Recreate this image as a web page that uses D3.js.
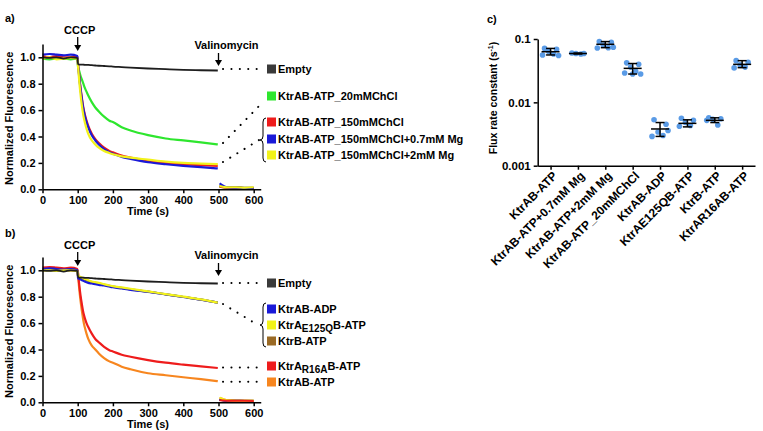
<!DOCTYPE html>
<html><head><meta charset="utf-8">
<script src="https://cdn.jsdelivr.net/npm/d3@7"></script>
<style>
body{margin:0;background:#fff}
text{font-family:"Liberation Sans",Arial,sans-serif;font-weight:bold;fill:#000}
</style>
</head><body><svg id="chart" width="763" height="431"></svg>
<script>
// ---------------- DATA ----------------
const timePre = [0, 20, 40, 60, 80, 99];
const timeDecay = [101,104,108,112,116,120,125,130,140,150,160,175,190,200,225,250,300,350,400,450,498];
const timePost = [503, 525, 550, 575, 600];
const xTicks = [0,100,200,300,400,500,600];
const yTicks = [0,0.2,0.4,0.6,0.8,1.0];

// Panel a
const aEmptyPre = [1.0,0.995,1.0,0.99,1.0,0.995];
const aEmptyDecay = [0.95,0.945,0.945,0.945,0.944,0.943,0.942,0.942,0.94,0.938,0.936,0.934,0.932,0.93,0.926,0.922,0.915,0.91,0.905,0.902,0.90];
const aEmptyPost = [0.025,0.015,0.015,0.012,0.012];
const aGreenPre = [0.99,0.985,0.99,0.99,0.985,0.99];
const aGreenDecay = [0.93,0.90,0.86,0.83,0.80,0.77,0.74,0.71,0.66,0.62,0.59,0.55,0.52,0.51,0.47,0.445,0.41,0.385,0.37,0.355,0.34];
const aGreenPost = [0.02,0.012,0.012,0.01,0.01];
const aRedPre = [1.01,1.0,1.01,1.0,1.0,1.01];
const aRedDecay = [0.95,0.87,0.77,0.69,0.62,0.57,0.52,0.48,0.42,0.38,0.35,0.315,0.29,0.28,0.255,0.24,0.215,0.20,0.19,0.183,0.178];
const aRedPost = [0.02,0.012,0.012,0.01,0.01];
const aBluePre = [1.02,1.025,1.02,1.015,1.02,1.01];
const aBlueDecay = [0.94,0.86,0.76,0.68,0.61,0.56,0.51,0.47,0.41,0.37,0.34,0.305,0.28,0.27,0.245,0.23,0.205,0.19,0.178,0.168,0.158];
const aBluePost = [0.045,0.015,0.012,0.01,0.01];
const aYellowPre = [0.99,1.0,0.985,0.99,0.995,0.99];
const aYellowDecay = [0.93,0.83,0.72,0.63,0.56,0.51,0.46,0.42,0.37,0.34,0.315,0.29,0.275,0.265,0.25,0.24,0.225,0.21,0.2,0.195,0.19];
const aYellowPost = [0.025,0.015,0.015,0.012,0.015];

// Panel b
const bEmptyPre = [1.0,0.995,1.0,0.99,1.0,0.995];
const bEmptyDecay = [0.95,0.945,0.945,0.945,0.944,0.943,0.942,0.942,0.94,0.938,0.936,0.934,0.932,0.93,0.926,0.922,0.915,0.91,0.905,0.902,0.90];
const bEmptyPost = [0.02,0.015,0.012,0.012,0.012];
const bBluePre = [1.01,1.015,1.01,1.005,1.01,1.0];
const bBlueDecay = [0.94,0.935,0.93,0.925,0.92,0.915,0.91,0.905,0.9,0.895,0.89,0.885,0.877,0.872,0.862,0.852,0.837,0.818,0.798,0.778,0.755];
const bBluePost = [0.02,0.012,0.012,0.01,0.01];
const bBrownPre = [1.0,1.005,1.0,1.0,1.005,1.0];
const bBrownDecay = [0.955,0.95,0.945,0.94,0.935,0.93,0.925,0.92,0.91,0.905,0.9,0.89,0.882,0.877,0.866,0.856,0.838,0.818,0.798,0.778,0.755];
const bBrownPost = [0.02,0.012,0.012,0.01,0.01];
const bYellowPre = [1.0,1.0,0.995,1.0,1.0,0.995];
const bYellowDecay = [0.96,0.955,0.95,0.945,0.94,0.935,0.93,0.925,0.915,0.91,0.905,0.895,0.885,0.88,0.87,0.86,0.84,0.82,0.80,0.78,0.755];
const bYellowPost = [0.035,0.015,0.012,0.012,0.012];
const bOrangePre = [1.0,1.005,1.0,1.005,1.0,1.0];
const bOrangeDecay = [0.96,0.87,0.77,0.69,0.62,0.57,0.52,0.48,0.43,0.40,0.37,0.335,0.31,0.30,0.27,0.25,0.22,0.205,0.19,0.175,0.16];
const bOrangePost = [0.035,0.015,0.012,0.012,0.012];
const bRedPre = [1.02,1.025,1.02,1.015,1.02,1.01];
const bRedDecay = [0.98,0.90,0.81,0.74,0.68,0.64,0.60,0.57,0.52,0.48,0.455,0.42,0.395,0.385,0.36,0.345,0.32,0.30,0.285,0.272,0.26];
const bRedPost = [0.015,0.012,0.012,0.012,0.01];

// Panel c
const cCategories = ["KtrAB-ATP","KtrAB-ATP+0.7mM Mg","KtrAB-ATP+2mM Mg","KtrAB-ATP_20mMChCl","KtrAB-ADP","KtrAE125QB-ATP","KtrB-ATP","KtrAR16AB-ATP"];
const cMeans = [0.063,0.059,0.0825,0.0344,0.0038,0.00466,0.0052,0.0398];
const cLow   = [0.056,0.058,0.073,0.028,0.0029,0.0041,0.0048,0.0353];
const cHigh  = [0.071,0.060,0.091,0.041,0.0048,0.0053,0.0057,0.0455];
const cPoints = [
  [0.071,0.069,0.064,0.058,0.056,0.055],
  [0.060,0.059,0.059,0.058],
  [0.091,0.089,0.080,0.073,0.072,0.074],
  [0.042,0.040,0.036,0.031,0.029,0.028,0.028],
  [0.0053,0.0045,0.0034,0.0030,0.0029,0.0036],
  [0.0056,0.0052,0.0048,0.0043,0.0042],
  [0.0057,0.0055,0.0054,0.0044,0.0052],
  [0.0455,0.043,0.039,0.036,0.035]
];
const cTicks = [0.001,0.01,0.1];

// ---------------- DRAW ----------------
const svg = d3.select("#chart");
const zip = (ts, vs) => ts.map((t,i)=>[t, vs[i]]);

function panel(opts){
  const g = svg.append("g");
  const x = d3.scaleLinear().domain([0,620]).range([42.5, 42.5+620*0.352]);
  const y = d3.scaleLinear().domain([0,1.1]).range([opts.y0, opts.y0-145.2]);
  const line = d3.line().x(d=>x(d[0])).y(d=>y(d[1])).curve(d3.curveMonotoneX);
  opts.series.forEach(s=>{
    g.append("path").attr("d", line(zip(timePre.concat(timeDecay), s.pre.concat(s.decay)))).attr("fill","none")
      .attr("stroke", s.color).attr("stroke-width", s.w || 2.2).attr("stroke-linejoin","round");
  });
  opts.postOrder.forEach(i=>{
    const s = opts.series[i];
    g.append("path").attr("d", line(zip(timePost, s.post))).attr("fill","none")
      .attr("stroke", s.color).attr("stroke-width", 2).attr("stroke-linejoin","round");
  });
  const xa = g.append("g").attr("transform",`translate(0,${opts.y0})`)
    .call(d3.axisBottom(x).tickValues(xTicks).tickSize(4).tickSizeOuter(0));
  const ya = g.append("g").attr("transform",`translate(${x(0)},0)`)
    .call(d3.axisLeft(y).tickValues(yTicks).tickFormat(d3.format(".1f")).tickSize(4).tickSizeOuter(0));
  [xa,ya].forEach(a=>{
    a.selectAll("path,line").attr("stroke","#000").attr("stroke-width",1.5);
    a.selectAll("text").style("font-size","11px").style("font-weight","bold").attr("fill","#000");
  });
  g.append("text").attr("x",148).attr("y",opts.y0+26).attr("text-anchor","middle").style("font-size","11px").text("Time (s)");
  g.append("text").attr("transform",`translate(13,${opts.y0-71}) rotate(-90)`).attr("text-anchor","middle")
    .style("font-size","11px").text("Normalized Fluorescence");
  g.append("text").attr("x",5).attr("y",opts.labelY).style("font-size","11px").text(opts.label);
  function arrow(t, ytxt, y1, y2, txt){
    const xx = x(t);
    g.append("text").attr("x",xx+ (txt==="CCCP"?2:8)).attr("y",ytxt).attr("text-anchor","middle").style("font-size","11px").text(txt);
    g.append("line").attr("x1",xx).attr("x2",xx).attr("y1",y1).attr("y2",y2-3).attr("stroke","#000").attr("stroke-width",1.3);
    g.append("path").attr("d",`M${xx-3.5},${y2-6}L${xx+3.5},${y2-6}L${xx},${y2}Z`).attr("fill","#000");
  }
  arrow(100, opts.cccpY, opts.cccpY+3, opts.cccpY+17, "CCCP");
  arrow(500, opts.valY, opts.valY+4, opts.valY+17, "Valinomycin");
  opts.connectors.forEach(c=>{
    g.append("line").attr("x1",c[0]).attr("y1",c[1]).attr("x2",c[2]).attr("y2",c[3])
      .attr("stroke","#000").attr("stroke-width",2).attr("stroke-linecap","round").attr("stroke-dasharray","0.1,8.3");
  });
  opts.braces.forEach(b=>{
    const [xr, yt, yb, xt] = b; const ym=(yt+yb)/2; const xm = xr-3;
    g.append("path").attr("d",`M${xr},${yt}Q${xm},${yt} ${xm},${yt+4}L${xm},${ym-4}Q${xm},${ym} ${xt},${ym}Q${xm},${ym} ${xm},${ym+4}L${xm},${yb-4}Q${xm},${yb} ${xr},${yb}`)
      .attr("fill","none").attr("stroke","#000").attr("stroke-width",1);
  });
  opts.legend.forEach(l=>{
    g.append("rect").attr("x",267).attr("y",l.y-4.5).attr("width",9).attr("height",9).attr("fill",l.color);
    const t = g.append("text").attr("x",278).attr("y",l.y).attr("dy","0.36em").style("font-size","11px");
    l.parts.forEach(p=>{
      if (p.sub) t.append("tspan").attr("dy",3).style("font-size","10px").text(p.text);
      else if (p.after) t.append("tspan").attr("dy",-3).text(p.text);
      else t.append("tspan").text(p.text);
    });
  });
}

const C = {black:"#1e1e1e", green:"#2ee62e", red:"#ee1c1c", blue:"#1a1ad8", yellow:"#f2f21a", orange:"#f7861f", brown:"#9a6a25", gray:"#3a3a3a"};

panel({
  y0:189.3, label:"a)", labelY:22, cccpY:34, valY:49,
  series:[
    {pre:aGreenPre,decay:aGreenDecay,post:aGreenPost,color:C.green},
    {pre:aRedPre,decay:aRedDecay,post:aRedPost,color:C.red},
    {pre:aBluePre,decay:aBlueDecay,post:aBluePost,color:C.blue},
    {pre:aYellowPre,decay:aYellowDecay,post:aYellowPost,color:C.yellow},
    {pre:aEmptyPre,decay:aEmptyDecay,post:aEmptyPost,color:C.black,w:1.8}
  ],
  postOrder:[4,0,1,2,3],
  connectors:[[223,69,264,69],[223,143,263,102],[223,162,259,140]],
  braces:[[266,118,162,260]],
  legend:[
    {y:69,color:C.gray,parts:[{text:"Empty"}]},
    {y:96,color:C.green,parts:[{text:"KtrAB-ATP_20mMChCl"}]},
    {y:122,color:C.red,parts:[{text:"KtrAB-ATP_150mMChCl"}]},
    {y:139,color:C.blue,parts:[{text:"KtrAB-ATP_150mMChCl+0.7mM Mg"}]},
    {y:155,color:C.yellow,parts:[{text:"KtrAB-ATP_150mMChCl+2mM Mg"}]}
  ]
});

panel({
  y0:402.3, label:"b)", labelY:237, cccpY:249, valY:259,
  series:[
    {pre:bOrangePre,decay:bOrangeDecay,post:bOrangePost,color:C.orange},
    {pre:bRedPre,decay:bRedDecay,post:bRedPost,color:C.red},
    {pre:bBrownPre,decay:bBrownDecay,post:bBrownPost,color:"#5a4a30"},
    {pre:bBluePre,decay:bBlueDecay,post:bBluePost,color:C.blue},
    {pre:bYellowPre,decay:bYellowDecay,post:bYellowPost,color:C.yellow},
    {pre:bEmptyPre,decay:bEmptyDecay,post:bEmptyPost,color:C.black,w:1.8}
  ],
  postOrder:[5,2,3,0,4,1],
  connectors:[[223,283,264,283],[223,304,258,325],[223,367.5,264,367.5],[223,381.7,264,381.7]],
  braces:[[266,303,347,260]],
  legend:[
    {y:283,color:C.gray,parts:[{text:"Empty"}]},
    {y:309,color:C.blue,parts:[{text:"KtrAB-ADP"}]},
    {y:325,color:C.yellow,parts:[{text:"KtrA"},{text:"E125Q",sub:true},{text:"B-ATP",after:true}]},
    {y:341,color:C.brown,parts:[{text:"KtrB-ATP"}]},
    {y:366,color:C.red,parts:[{text:"KtrA"},{text:"R16A",sub:true},{text:"B-ATP",after:true}]},
    {y:382,color:C.orange,parts:[{text:"KtrAB-ATP"}]}
  ]
});

// Panel c
(function(){
  const g = svg.append("g");
  const x = d3.scalePoint().domain(cCategories).range([537.7,755]).padding(0.47);
  const y = d3.scaleLog().domain([0.001,0.1]).range([165.7,39]);
  const jit = [-6,6,-2,3,-8,8,0];
  cPoints.forEach((pts,ci)=>{
    g.selectAll(null).data(pts).enter().append("circle")
      .attr("cx",(d,i)=>x(cCategories[ci])+jit[i%jit.length])
      .attr("cy",d=>y(d)).attr("r",2.8).attr("fill","#5a9be6");
  });
  cCategories.forEach((c,i)=>{
    const cx = x(c);
    g.append("line").attr("x1",cx).attr("x2",cx).attr("y1",y(cLow[i])).attr("y2",y(cHigh[i])).attr("stroke","#000").attr("stroke-width",1.5);
    [cLow[i],cHigh[i]].forEach(v=>g.append("line").attr("x1",cx-4.5).attr("x2",cx+4.5).attr("y1",y(v)).attr("y2",y(v)).attr("stroke","#000").attr("stroke-width",1.5));
    g.append("line").attr("x1",cx-9).attr("x2",cx+9).attr("y1",y(cMeans[i])).attr("y2",y(cMeans[i])).attr("stroke","#000").attr("stroke-width",1.5);
  });
  const xa = g.append("g").attr("transform","translate(0,165.7)").call(d3.axisBottom(x).tickSize(4).tickSizeOuter(0));
  const ya = g.append("g").attr("transform","translate(537.7,0)").call(d3.axisLeft(y).tickValues(cTicks).tickFormat(d=>String(d)).tickSize(4).tickSizeOuter(0));
  [xa,ya].forEach(a=>{
    a.selectAll("path,line").attr("stroke","#000").attr("stroke-width",1.5);
    a.selectAll("text").style("font-size","11.5px").style("font-weight","bold").attr("fill","#000");
  });
  xa.selectAll("text").style("font-size","12px")
    .attr("transform","translate(4,8) rotate(-45)").attr("text-anchor","end").attr("x",0).attr("y",0).attr("dy","0.35em");
  const lab = g.append("text").attr("transform","translate(497,98) rotate(-90)").attr("text-anchor","middle").style("font-size","10.5px");
  lab.append("tspan").text("Flux rate constant (s");
  lab.append("tspan").attr("dy",-4).style("font-size","7px").text("-1");
  lab.append("tspan").attr("dy",4).text(")");
  g.append("text").attr("x",487).attr("y",23).style("font-size","11px").text("c)");
})();
</script>
</body></html>
